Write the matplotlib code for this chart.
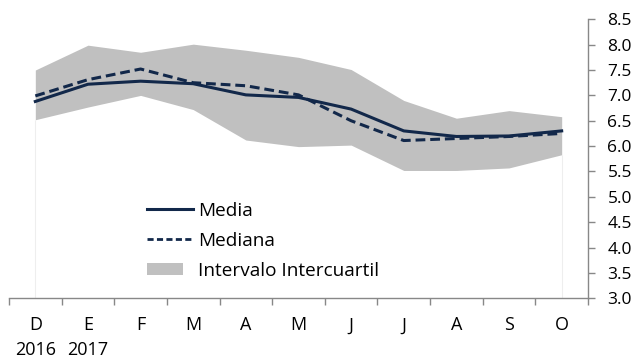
import matplotlib
matplotlib.use("Agg")
import matplotlib.pyplot as plt
from matplotlib.patches import Rectangle
from matplotlib.lines import Line2D
from matplotlib.legend_handler import HandlerPatch

months = ["D", "E", "F", "M", "A", "M", "J", "J", "A", "S", "O"]
years = ["2016", "2017", "", "", "", "", "", "", "", "", ""]
media = [6.88, 7.22, 7.28, 7.23, 7.01, 6.96, 6.73, 6.30, 6.19, 6.20, 6.30]
mediana = [6.99, 7.31, 7.52, 7.25, 7.19, 7.01, 6.50, 6.11, 6.15, 6.19, 6.25]
q1 = [6.52, 6.77, 7.00, 6.72, 6.12, 5.99, 6.02, 5.52, 5.52, 5.57, 5.83]
q3 = [7.50, 7.99, 7.85, 8.01, 7.89, 7.75, 7.51, 6.90, 6.55, 6.70, 6.58]
yticks = [3.0, 3.5, 4.0, 4.5, 5.0, 5.5, 6.0, 6.5, 7.0, 7.5, 8.0, 8.5]

plt.rcParams['font.family'] = ['Open Sans', 'DejaVu Sans']
FS = 12.5
FSX = 13
FSL = 13.7
NAVY = '#12284a'
GRAY = '#c0c0c0'
AXC = '#888888'

fig = plt.figure(figsize=(6.39, 3.58), dpi=100)
ax = fig.add_axes([9/639, 1-298.3/358, (588-9)/639, (298.3-19.3)/358])

x = list(range(len(months)))
ax.fill_between(x, q1, q3, color=GRAY, linewidth=0, zorder=1)
# faint edges of the area down to the axis
ax.vlines([x[0], x[-1]], 3.0, [q1[0], q1[-1]], color='#eeeeee', linewidth=0.8, zorder=0.5)
ax.plot(x, media, color=NAVY, linewidth=2.2, solid_joinstyle='round', zorder=3)
ax.plot(x, mediana, color=NAVY, linewidth=2.2, linestyle=(0, (3.2, 1.6)), zorder=3)

ax.set_xlim(-0.5, len(months) - 0.5)
ax.set_ylim(3.0, 8.5)

for s in ['top', 'left']:
    ax.spines[s].set_visible(False)
for s in ['bottom', 'right']:
    ax.spines[s].set_color(AXC)
    ax.spines[s].set_linewidth(1.0)

ax.yaxis.tick_right()
ax.set_yticks(yticks)
ax.set_yticklabels([f"{v:.1f}" for v in yticks])
ax.tick_params(axis='y', direction='out', length=5, width=1.0, color=AXC,
               labelsize=FS, pad=9)

ax.set_xticks([i - 0.5 for i in range(len(months) + 1)])
ax.set_xticklabels([])
ax.tick_params(axis='x', which='major', direction='out', length=5, width=1.0, color=AXC)
ax.set_xticks(x, minor=True)
labels = [m + ("\n" + y if y else "") for m, y in zip(months, years)]
ax.set_xticklabels(labels, minor=True, fontsize=FSX, linespacing=1.45)
ax.tick_params(axis='x', which='minor', length=0, pad=13)
for t in ax.get_xticklabels(minor=True):
    t.set_horizontalalignment('center')


class NarrowPatch(HandlerPatch):
    def create_artists(self, legend, orig_handle, xdescent, ydescent, width, height, fontsize, trans):
        w = width * 0.78
        h = height * 0.9
        p = Rectangle((-xdescent, -ydescent + (height - h) / 2), w, h,
                      facecolor=GRAY, edgecolor='none', transform=trans)
        return [p]


h1 = Line2D([], [], color=NAVY, linewidth=2.2)
h2 = Line2D([], [], color=NAVY, linewidth=2.0, linestyle=(0, (2.2, 1.2)))
h3 = Rectangle((0, 0), 1, 1, facecolor=GRAY, edgecolor='none')
leg = ax.legend([h1, h2, h3], ["Media", "Mediana", "Intervalo Intercuartil"],
                handler_map={Rectangle: NarrowPatch()},
                loc='upper left', bbox_to_anchor=(147/639, 1-202/358),
                bbox_transform=fig.transFigure, frameon=False, fontsize=FSL,
                handlelength=2.42, handletextpad=0.25, labelspacing=0.62,
                borderpad=0, borderaxespad=0)

fig.savefig("out.png", dpi=100)
